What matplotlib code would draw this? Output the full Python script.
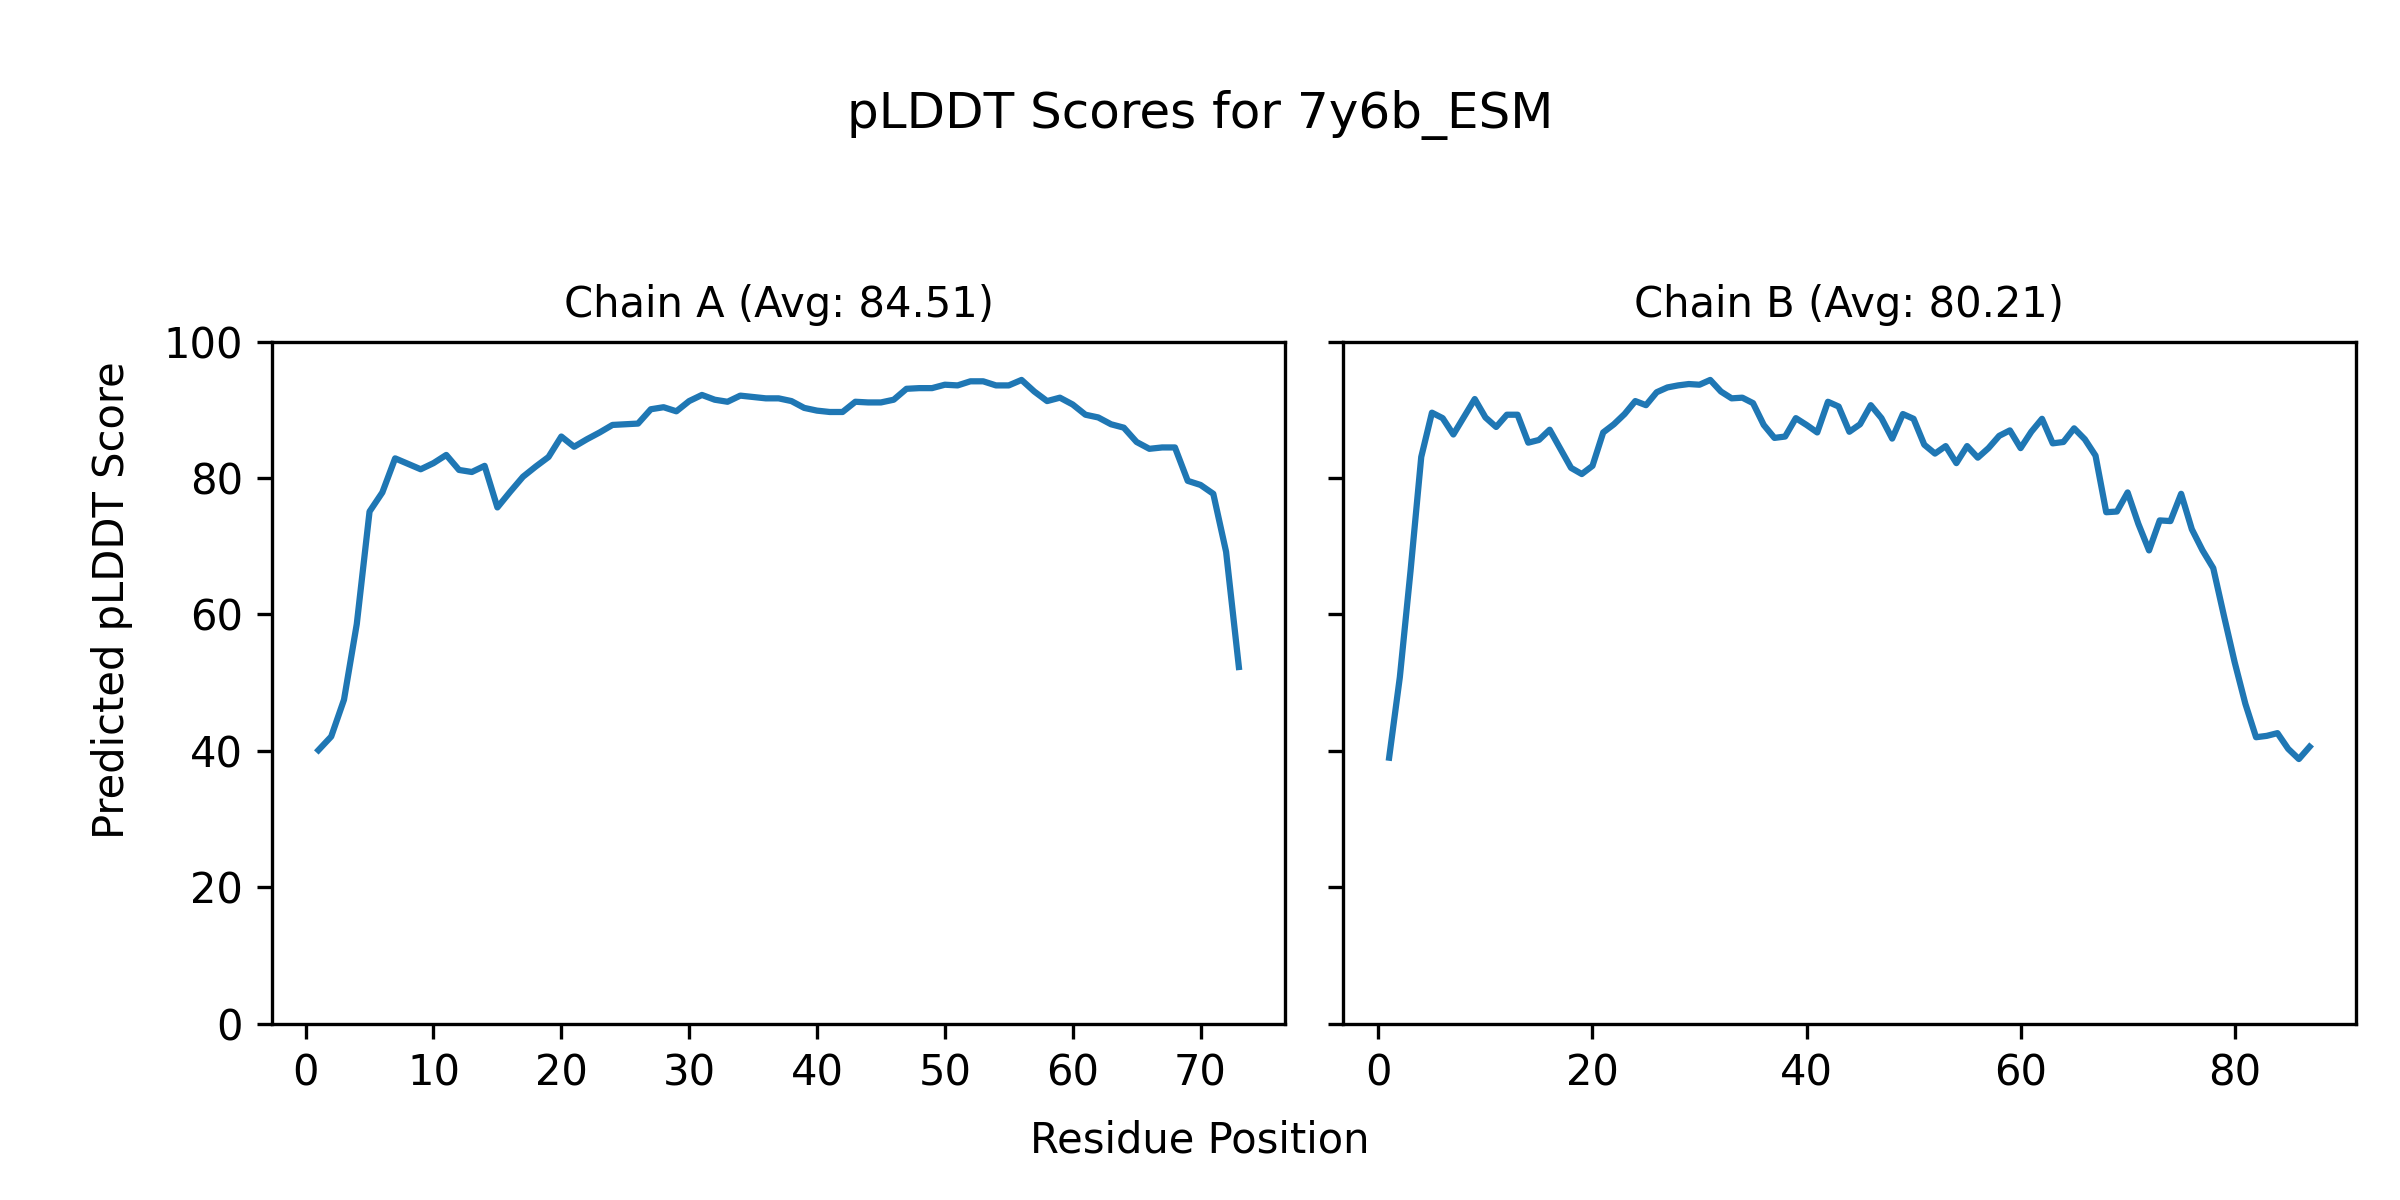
import numpy as np
import matplotlib
matplotlib.use("Agg")
import matplotlib.pyplot as plt

# pLDDT per residue
chain_a_scores = [
    40.1, 42.1, 47.5, 58.6, 75.1, 77.9, 82.9, 82.1, 81.3, 82.2,
    83.4, 81.2, 80.9, 81.8, 75.7, 78.0, 80.2, 81.7, 83.1, 86.1,
    84.6, 85.7, 86.7, 87.8, 87.9, 88.0, 90.1, 90.4, 89.8, 91.3,
    92.2, 91.5, 91.2, 92.1, 91.9, 91.7, 91.7, 91.3, 90.3, 89.9,
    89.7, 89.7, 91.2, 91.1, 91.1, 91.5, 93.1, 93.2, 93.2, 93.7,
    93.6, 94.2, 94.2, 93.6, 93.6, 94.4, 92.7, 91.3, 91.8, 90.8,
    89.3, 88.9, 87.9, 87.4, 85.3, 84.3, 84.5, 84.5, 79.6, 79.0,
    77.7, 69.2, 52.3,
]
chain_b_scores = [
    39.0, 50.8, 66.4, 83.1, 89.6, 88.8, 86.4, 89.0, 91.6, 88.9,
    87.5, 89.3, 89.3, 85.2, 85.6, 87.1, 84.3, 81.5, 80.6, 81.8,
    86.7, 87.9, 89.4, 91.3, 90.7, 92.6, 93.3, 93.6, 93.8, 93.7,
    94.4, 92.7, 91.7, 91.8, 91.0, 87.8, 85.9, 86.1, 88.8, 87.8,
    86.7, 91.2, 90.5, 86.8, 87.9, 90.7, 88.8, 85.8, 89.4, 88.7,
    84.9, 83.6, 84.7, 82.2, 84.7, 83.0, 84.4, 86.2, 87.0, 84.4,
    86.8, 88.7, 85.1, 85.3, 87.3, 85.7, 83.3, 75.0, 75.1, 77.9,
    73.3, 69.4, 73.8, 73.7, 77.7, 72.5, 69.4, 66.8, 59.8, 53.0,
    46.9, 42.0, 42.2, 42.6, 40.3, 38.8, 40.6,
]
chain_names = ["A", "B"]
chain_avgs = [84.51, 80.21]
model_name = "7y6b_ESM"

fig, axes = plt.subplots(1, 2, figsize=(8, 4), dpi=300, sharey=True)
fig.subplots_adjust(left=0.1135, right=0.9815, bottom=0.147, top=0.7152,
                    wspace=0.0575)

for ax, name, avg, scores in zip(axes, chain_names, chain_avgs,
                                 [chain_a_scores, chain_b_scores]):
    pos = np.arange(1, len(scores) + 1)
    ax.plot(pos, scores, color="#1f77b4", linewidth=1.5)
    ax.set_title(f"Chain {name} (Avg: {avg:.2f})", fontsize=10)
    ax.set_ylim(0, 100)

fig.suptitle(f"pLDDT Scores for {model_name}", fontsize=12, y=0.925)
fig.supxlabel("Residue Position", fontsize=10, y=0.032)
fig.supylabel("Predicted pLDDT Score", fontsize=10, x=0.038)

fig.savefig("out.png", dpi=300, facecolor="white")
